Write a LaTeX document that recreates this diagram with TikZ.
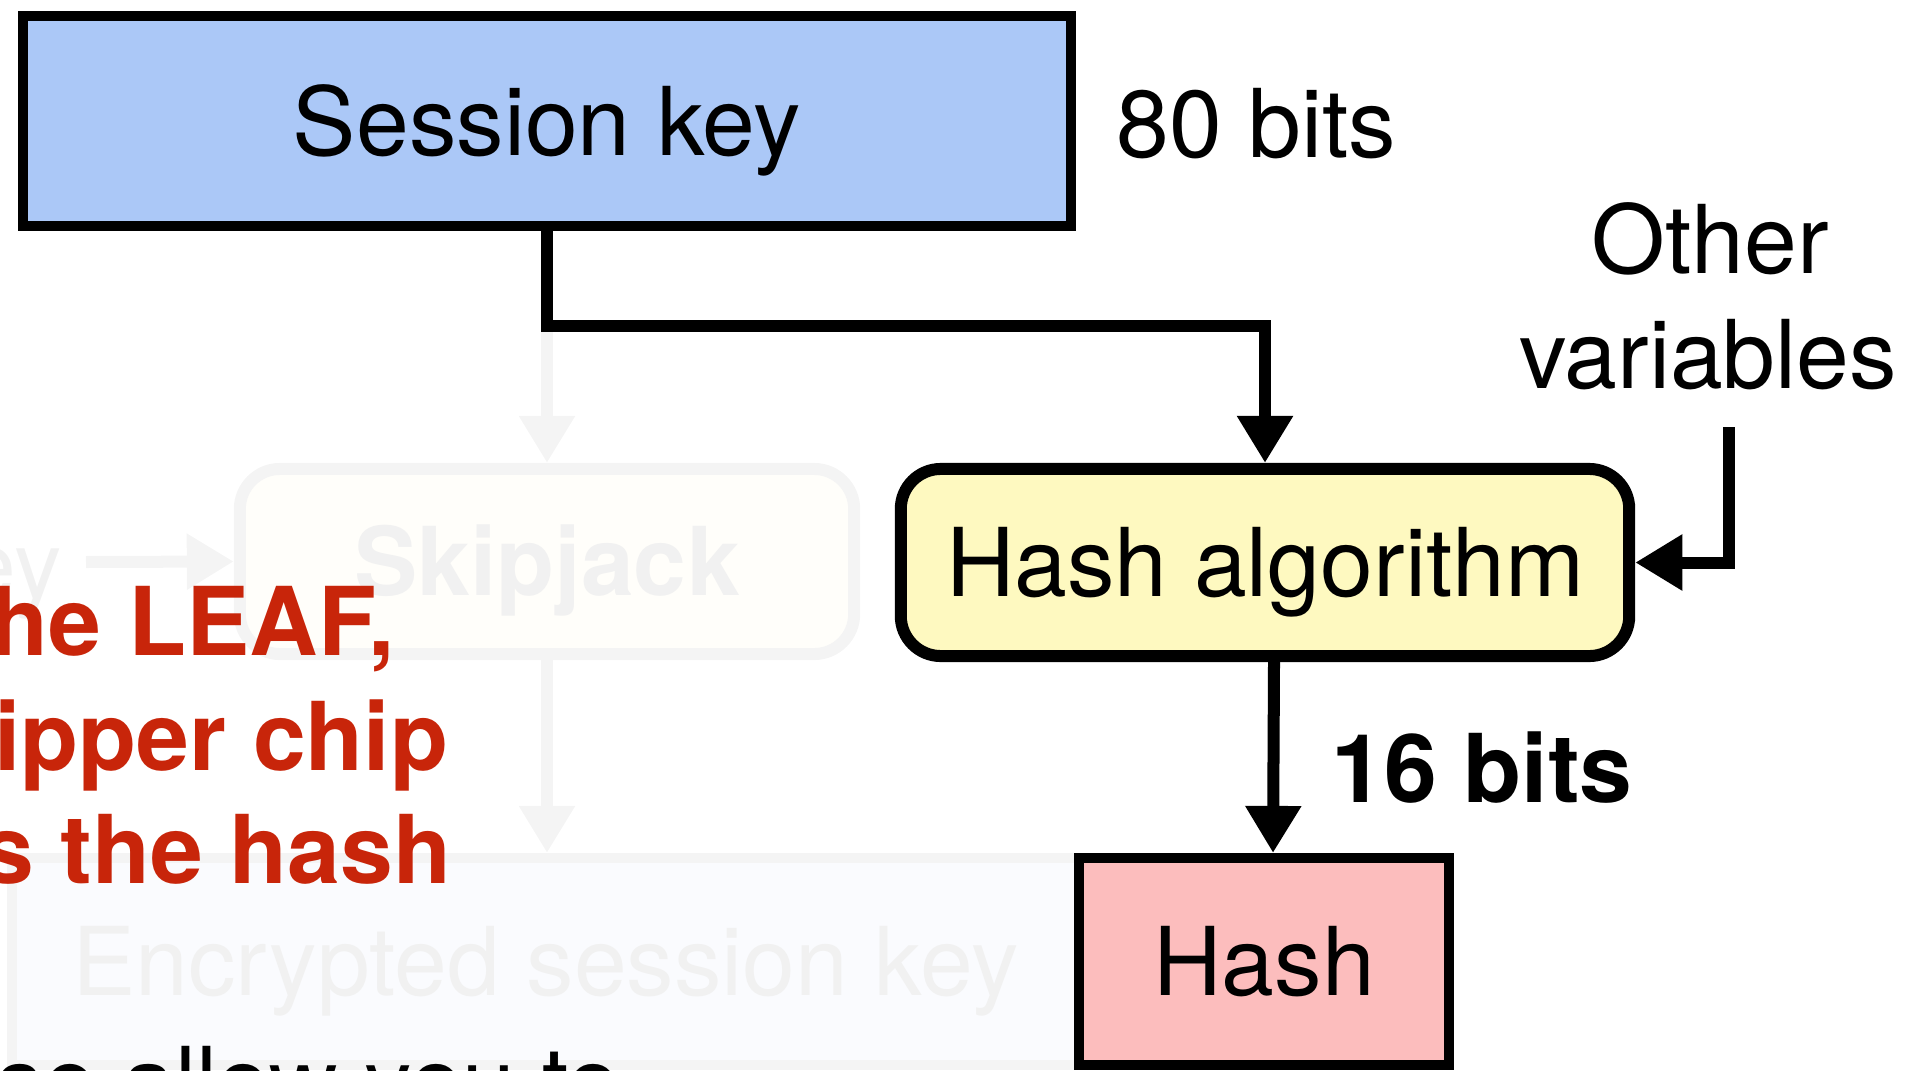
\documentclass[tikz,border=0pt]{standalone}
\usepackage{fontspec}
\setmainfont{TeX Gyre Heros}
\usetikzlibrary{arrows.meta}
\definecolor{skblue}{HTML}{ABC8F7}
\definecolor{hayellow}{HTML}{FEF9C0}
\definecolor{hashpink}{HTML}{FCBDBD}
\definecolor{leafred}{HTML}{C8250A}
\definecolor{fadeline}{HTML}{F4F4F4}
\definecolor{fadetext}{HTML}{F1F1F1}
\definecolor{fadeyellow}{HTML}{FFFEFA}
\definecolor{fadeblue}{HTML}{FAFBFE}
\begin{document}
\begin{tikzpicture}[x=0.01cm,y=-0.01cm,
  txt/.style={font=\fontsize{27}{32}\selectfont, inner sep=0pt, text height=19.4pt, text depth=0pt},
  boldtxt/.style={txt, font=\fontsize{27}{32}\selectfont\bfseries},
  box/.style={txt, draw=black, line width=0.1cm},
  conn/.style={line width=0.12cm, -{Triangle[length=0.47cm,width=0.53cm]}},
  fadedconn/.style={draw=fadeline, line width=0.12cm, -{Triangle[length=0.47cm,width=0.53cm]}},
  ]
\useasboundingbox (0,0) rectangle (1919,1070);
\clip (0,0) rectangle (1919,1070);

% faded background part
\node[txt, fill=fadeblue, draw=fadeline, line width=0.1cm, minimum width=10.67cm, minimum height=2.07cm, text=fadetext] (enc) at (545.5,961.5) {Encrypted session key};
\node[boldtxt, fill=fadeyellow, draw=fadeline, line width=0.12cm, rounded corners=0.4cm, minimum width=6.14cm, minimum height=1.85cm, text=fadetext] (sj) at (547,561.5) {Skipjack};
\node[txt, text=fadetext, anchor=base east] (ky) at (63,598) {ey};
\coordinate (kys) at (86,562);
\coordinate (j0) at (547,326);
\draw[fadedconn] (kys) -- (sj.west);
\draw[fadedconn] (j0) -- (sj.north);
\draw[fadedconn] (sj.south) -- (sj.south |- enc.north);

% main boxes
\node[box, fill=skblue, minimum width=10.48cm, minimum height=2.10cm] (sk) at (547,121) {Session key};
\node[box, fill=hayellow, rounded corners=0.4cm, line width=0.12cm, minimum width=7.28cm, minimum height=1.87cm] (ha) at (1265,562.5) {Hash algorithm};
\node[box, fill=hashpink, minimum width=3.70cm, minimum height=2.07cm] (hash) at (1264,961.5) {Hash};

% labels
\node[txt, anchor=base west] (b80) at (1116,157) {80 bits};
\node[txt, anchor=base] (ov1) at (1710,273) {Other};
\node[txt, anchor=base] (ov2) at (1708,388) {variables};
\node[boldtxt, anchor=base west] (b16) at (1331,802) {16 bits};
\node[boldtxt, text=leafred, anchor=base east] (r1) at (396,655) {he LEAF,};
\node[boldtxt, text=leafred, anchor=base east] (r2) at (449,770) {ipper chip};
\node[boldtxt, text=leafred, anchor=base east] (r3) at (452,883) {s the hash};
\node[txt, anchor=base east] (allow) at (621,1115) {se allow you to};

% connectors
\coordinate (j1) at (ha.north |- j0);
\draw[conn] (sk.south) |- (j1) -- (ha.north);
\coordinate (ovs) at (1729,427);
\draw[conn] (ovs) |- (ha.east);
\draw[conn] ([xshift=0.09cm]ha.south) -- ([xshift=0.09cm]hash.north);
\end{tikzpicture}
\end{document}
